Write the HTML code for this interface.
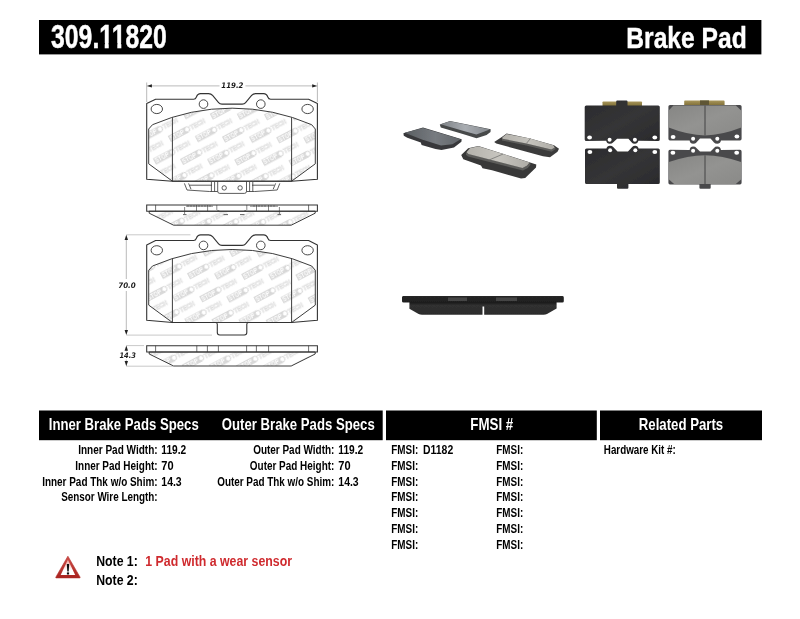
<!DOCTYPE html>
<html lang="en"><head><meta charset="utf-8"><title>309.11820 Brake Pad</title>
<style>
html,body{margin:0;padding:0;background:#fff;}
body{width:800px;height:619px;overflow:hidden;}
svg{display:block;will-change:transform;}
text{white-space:pre;}
</style></head><body>
<svg width="800" height="619" viewBox="0 0 800 619">
<rect width="800" height="619" fill="#fff"/>

<rect x="39" y="20" width="722.4" height="34.4" fill="#000"/>
<text x="51.1" y="47.8" font-family='"Liberation Sans", Arial, sans-serif' font-size="32.4" font-weight="bold" fill="#fff" text-anchor="start" textLength="115.6" lengthAdjust="spacingAndGlyphs" stroke="#fff" stroke-width="0.5">309.11820</text>
<path d="M98.9,42.9 H104.7 V48.9 H98.9 Z M108.75,42.9 H117.3 V48.9 H108.75 Z M121.35,42.9 H125.35 V48.9 H121.35 Z" fill="#000"/>
<text x="626.3" y="48.4" font-family='"Liberation Sans", Arial, sans-serif' font-size="30" font-weight="bold" fill="#fff" text-anchor="start" textLength="120.4" lengthAdjust="spacingAndGlyphs" stroke="#fff" stroke-width="0.4">Brake Pad</text>
<rect x="39" y="410.5" width="343.7" height="29.7" fill="#000"/>
<rect x="386" y="410.5" width="210.8" height="29.7" fill="#000"/>
<rect x="600" y="410.5" width="162" height="29.7" fill="#000"/>
<text x="48.8" y="429.6" font-family='"Liberation Sans", Arial, sans-serif' font-size="16.6" font-weight="bold" fill="#fff" text-anchor="start" textLength="149.9" lengthAdjust="spacingAndGlyphs">Inner Brake Pads Specs</text>
<text x="221.8" y="429.6" font-family='"Liberation Sans", Arial, sans-serif' font-size="16.6" font-weight="bold" fill="#fff" text-anchor="start" textLength="152.9" lengthAdjust="spacingAndGlyphs">Outer Brake Pads Specs</text>
<text x="470.3" y="429.6" font-family='"Liberation Sans", Arial, sans-serif' font-size="16.6" font-weight="bold" fill="#fff" text-anchor="start" textLength="42.9" lengthAdjust="spacingAndGlyphs">FMSI #</text>
<text x="638.8" y="429.6" font-family='"Liberation Sans", Arial, sans-serif' font-size="16.6" font-weight="bold" fill="#fff" text-anchor="start" textLength="84.4" lengthAdjust="spacingAndGlyphs">Related Parts</text>
<text x="157.6" y="454.3" font-family='"Liberation Sans", Arial, sans-serif' font-size="12" font-weight="bold" fill="#000" text-anchor="end" textLength="79.4" lengthAdjust="spacingAndGlyphs">Inner Pad Width:</text>
<text x="161.3" y="454.3" font-family='"Liberation Sans", Arial, sans-serif' font-size="12" font-weight="bold" fill="#000" text-anchor="start" textLength="24.9" lengthAdjust="spacingAndGlyphs">119.2</text>
<text x="157.6" y="470.0" font-family='"Liberation Sans", Arial, sans-serif' font-size="12" font-weight="bold" fill="#000" text-anchor="end" textLength="82.3" lengthAdjust="spacingAndGlyphs">Inner Pad Height:</text>
<text x="161.3" y="470.0" font-family='"Liberation Sans", Arial, sans-serif' font-size="12" font-weight="bold" fill="#000" text-anchor="start" textLength="12.3" lengthAdjust="spacingAndGlyphs">70</text>
<text x="157.6" y="485.7" font-family='"Liberation Sans", Arial, sans-serif' font-size="12" font-weight="bold" fill="#000" text-anchor="end" textLength="115.4" lengthAdjust="spacingAndGlyphs">Inner Pad Thk w/o Shim:</text>
<text x="161.3" y="485.7" font-family='"Liberation Sans", Arial, sans-serif' font-size="12" font-weight="bold" fill="#000" text-anchor="start" textLength="20.4" lengthAdjust="spacingAndGlyphs">14.3</text>
<text x="157.6" y="501.4" font-family='"Liberation Sans", Arial, sans-serif' font-size="12" font-weight="bold" fill="#000" text-anchor="end" textLength="96.4" lengthAdjust="spacingAndGlyphs">Sensor Wire Length:</text>
<text x="334.35" y="454.3" font-family='"Liberation Sans", Arial, sans-serif' font-size="12" font-weight="bold" fill="#000" text-anchor="end" textLength="81.2" lengthAdjust="spacingAndGlyphs">Outer Pad Width:</text>
<text x="338.3" y="454.3" font-family='"Liberation Sans", Arial, sans-serif' font-size="12" font-weight="bold" fill="#000" text-anchor="start" textLength="24.9" lengthAdjust="spacingAndGlyphs">119.2</text>
<text x="334.35" y="470.0" font-family='"Liberation Sans", Arial, sans-serif' font-size="12" font-weight="bold" fill="#000" text-anchor="end" textLength="84.5" lengthAdjust="spacingAndGlyphs">Outer Pad Height:</text>
<text x="338.3" y="470.0" font-family='"Liberation Sans", Arial, sans-serif' font-size="12" font-weight="bold" fill="#000" text-anchor="start" textLength="12.3" lengthAdjust="spacingAndGlyphs">70</text>
<text x="334.35" y="485.7" font-family='"Liberation Sans", Arial, sans-serif' font-size="12" font-weight="bold" fill="#000" text-anchor="end" textLength="117.15" lengthAdjust="spacingAndGlyphs">Outer Pad Thk w/o Shim:</text>
<text x="338.3" y="485.7" font-family='"Liberation Sans", Arial, sans-serif' font-size="12" font-weight="bold" fill="#000" text-anchor="start" textLength="20.4" lengthAdjust="spacingAndGlyphs">14.3</text>
<text x="391.3" y="454.3" font-family='"Liberation Sans", Arial, sans-serif' font-size="12" font-weight="bold" fill="#000" text-anchor="start" textLength="26.9" lengthAdjust="spacingAndGlyphs">FMSI:</text>
<text x="496.3" y="454.3" font-family='"Liberation Sans", Arial, sans-serif' font-size="12" font-weight="bold" fill="#000" text-anchor="start" textLength="26.9" lengthAdjust="spacingAndGlyphs">FMSI:</text>
<text x="391.3" y="470.0" font-family='"Liberation Sans", Arial, sans-serif' font-size="12" font-weight="bold" fill="#000" text-anchor="start" textLength="26.9" lengthAdjust="spacingAndGlyphs">FMSI:</text>
<text x="496.3" y="470.0" font-family='"Liberation Sans", Arial, sans-serif' font-size="12" font-weight="bold" fill="#000" text-anchor="start" textLength="26.9" lengthAdjust="spacingAndGlyphs">FMSI:</text>
<text x="391.3" y="485.7" font-family='"Liberation Sans", Arial, sans-serif' font-size="12" font-weight="bold" fill="#000" text-anchor="start" textLength="26.9" lengthAdjust="spacingAndGlyphs">FMSI:</text>
<text x="496.3" y="485.7" font-family='"Liberation Sans", Arial, sans-serif' font-size="12" font-weight="bold" fill="#000" text-anchor="start" textLength="26.9" lengthAdjust="spacingAndGlyphs">FMSI:</text>
<text x="391.3" y="501.4" font-family='"Liberation Sans", Arial, sans-serif' font-size="12" font-weight="bold" fill="#000" text-anchor="start" textLength="26.9" lengthAdjust="spacingAndGlyphs">FMSI:</text>
<text x="496.3" y="501.4" font-family='"Liberation Sans", Arial, sans-serif' font-size="12" font-weight="bold" fill="#000" text-anchor="start" textLength="26.9" lengthAdjust="spacingAndGlyphs">FMSI:</text>
<text x="391.3" y="517.1" font-family='"Liberation Sans", Arial, sans-serif' font-size="12" font-weight="bold" fill="#000" text-anchor="start" textLength="26.9" lengthAdjust="spacingAndGlyphs">FMSI:</text>
<text x="496.3" y="517.1" font-family='"Liberation Sans", Arial, sans-serif' font-size="12" font-weight="bold" fill="#000" text-anchor="start" textLength="26.9" lengthAdjust="spacingAndGlyphs">FMSI:</text>
<text x="391.3" y="532.8" font-family='"Liberation Sans", Arial, sans-serif' font-size="12" font-weight="bold" fill="#000" text-anchor="start" textLength="26.9" lengthAdjust="spacingAndGlyphs">FMSI:</text>
<text x="496.3" y="532.8" font-family='"Liberation Sans", Arial, sans-serif' font-size="12" font-weight="bold" fill="#000" text-anchor="start" textLength="26.9" lengthAdjust="spacingAndGlyphs">FMSI:</text>
<text x="391.3" y="548.5" font-family='"Liberation Sans", Arial, sans-serif' font-size="12" font-weight="bold" fill="#000" text-anchor="start" textLength="26.9" lengthAdjust="spacingAndGlyphs">FMSI:</text>
<text x="496.3" y="548.5" font-family='"Liberation Sans", Arial, sans-serif' font-size="12" font-weight="bold" fill="#000" text-anchor="start" textLength="26.9" lengthAdjust="spacingAndGlyphs">FMSI:</text>
<text x="423.05" y="454.3" font-family='"Liberation Sans", Arial, sans-serif' font-size="12" font-weight="bold" fill="#000" text-anchor="start" textLength="30.15" lengthAdjust="spacingAndGlyphs">D1182</text>
<text x="603.8" y="454.3" font-family='"Liberation Sans", Arial, sans-serif' font-size="12" font-weight="bold" fill="#000" text-anchor="start" textLength="71.9" lengthAdjust="spacingAndGlyphs">Hardware Kit #:</text>
<text x="96.2" y="566.4" font-family='"Liberation Sans", Arial, sans-serif' font-size="14" font-weight="bold" fill="#000" text-anchor="start" textLength="41.6" lengthAdjust="spacingAndGlyphs">Note 1:</text>
<text x="96.2" y="585.25" font-family='"Liberation Sans", Arial, sans-serif' font-size="14" font-weight="bold" fill="#000" text-anchor="start" textLength="41.6" lengthAdjust="spacingAndGlyphs">Note 2:</text>
<text x="145.3" y="566.4" font-family='"Liberation Sans", Arial, sans-serif' font-size="14" font-weight="bold" fill="#cf2a2e" text-anchor="start" textLength="146.7" lengthAdjust="spacingAndGlyphs">1 Pad with a wear sensor</text>
<defs>
<pattern id="wm" patternUnits="userSpaceOnUse" width="46.5" height="25.5" patternTransform="translate(197.8 142) rotate(-28) scale(1.022)">
 <g font-family='"Liberation Sans", Arial, sans-serif' font-weight="bold" font-size="6.2">
  <g id="lg">
   <rect x="0" y="-6.2" width="19.5" height="6.6" fill="#d9d9d9"/>
   <text x="1" y="-0.6" fill="#fff" textLength="15" lengthAdjust="spacingAndGlyphs">STOP</text>
   <circle cx="19.8" cy="-3" r="2.6" fill="#fff" stroke="#cfcfcf" stroke-width="0.9"/>
   <text x="23.2" y="-0.6" fill="#fff" stroke="#dadada" stroke-width="0.55" textLength="16" lengthAdjust="spacingAndGlyphs">TECH</text>
  </g>
  <use href="#lg" x="46.5" y="0"/><use href="#lg" x="-46.5" y="0"/>
  <use href="#lg" x="0" y="25.5"/><use href="#lg" x="46.5" y="25.5"/><use href="#lg" x="-46.5" y="25.5"/>
  <use href="#lg" x="23.25" y="12.75"/><use href="#lg" x="-23.25" y="12.75"/><use href="#lg" x="69.75" y="12.75"/>
  <use href="#lg" x="23.25" y="38.25"/><use href="#lg" x="-23.25" y="38.25"/>
 </g>
</pattern>
</defs>
<path d="M148.7,129 L152.5,124.7 A200,200 0 0 1 311.7,124.7 L315.3,129 L315.3,163.8 L291.6,181.2 L172.4,181.2 L148.7,163.8 Z" fill="url(#wm)" stroke="none"/>
<path d="M146.7,103.6 L155.6,99.2 L193.6,99.2 Q195.6,99.2 196.4,97 Q197.6,93.6 200.6,93.6 L208.6,93.6 Q211,93.6 212.6,95.4 L218.6,102.6 Q219.8,104.1 222,104.1 L242.2,104.1 Q244.4,104.1 245.6,102.6 L251.6,95.4 Q253.2,93.6 255.6,93.6 L263.6,93.6 Q266.6,93.6 267.8,97 Q268.6,99.2 270.6,99.2 L308.6,99.2 L317.4,103.6 L317.4,179.2 L291.6,181.3 L172.4,181.3 L146.7,179.2 Z" fill="none" stroke="#333333" stroke-width="1.1" stroke-linejoin="round"/>
<path d="M148.7,129 L152.5,124.7 A200,200 0 0 1 311.7,124.7 L315.3,129 L315.3,163.8 L291.6,181.2 L172.4,181.2 L148.7,163.8 Z" fill="none" stroke="#333333" stroke-width="0.95" stroke-linejoin="round"/>
<path d="M172.4,117.4 V181.2 M291.6,117.4 V181.2" fill="none" stroke="#333333" stroke-width="0.95"/>
<ellipse cx="156.8" cy="109" rx="5.7" ry="4.6" fill="#fff" stroke="#333333" stroke-width="0.9"/>
<ellipse cx="307.6" cy="109" rx="5.7" ry="4.6" fill="#fff" stroke="#333333" stroke-width="0.9"/>
<circle cx="203.5" cy="104.1" r="4.3" fill="#fff" stroke="#333333" stroke-width="0.9"/>
<circle cx="260.8" cy="104.1" r="4.3" fill="#fff" stroke="#333333" stroke-width="0.9"/>
<g fill="none" stroke="#333333" stroke-width="0.8" stroke-linejoin="round"><path d="M184.4,183.4 L187,190 L209.5,191.5 L217.7,191.5 M188.6,183.4 L191,189.2 M190,185.2 H212"/><path d="M279.8,183.4 L277.2,190 L254.7,191.5 L246.5,191.5 M275.6,183.4 L273.2,189.2 M274.2,185.2 H252"/><path d="M217.7,181.4 V191.3 Q217.7,193.4 219.8,193.4 L244.4,193.4 Q246.5,193.4 246.5,191.3 V181.4"/><path d="M211.4,182 V191.5 M214.6,182 V191.5 M249.6,182 V191.5 M252.8,182 V191.5"/><circle cx="224.2" cy="187.9" r="2.2"/><circle cx="240.1" cy="187.9" r="2.2"/></g>
<path d="M149.2,211.2 V213.2 L173.6,225.2 H291.2 L315.2,213.2 V211.2 Z" fill="url(#wm)" stroke="none"/>
<path d="M146.7,204.9 H317.4 V211.2 H146.7 Z" fill="#fff" stroke="#333333" stroke-width="1.05"/>
<path d="M149.2,211.2 V213.2 L173.6,225.2 H291.2 L315.2,213.2 V211.2 Z" fill="none" stroke="#333333" stroke-width="0.95" stroke-linejoin="round"/>
<path d="M155.6,204.9 V211.2 M308.6,204.9 V211.2" fill="none" stroke="#333333" stroke-width="0.7"/>
<g fill="none" stroke="#333333" stroke-width="0.6"><path d="M186,206.2 H213 M250,206.2 H278 M196.5,205 V211 M207.6,205 V211 M216.8,205 V209.5 Q217.5,211 219.5,211 M246.8,205 V209.5 Q246,211 244,211 M256.5,205 V211 M268.5,205 V211 M184.6,207 V214 M279.4,207 V214"/><path d="M188,205 V207 M191,205 V207 M194,205 V207 M199,205 V207 M202,205 V207 M205,205 V207 M210,205 V207 M254,205 V207 M259,205 V207 M262,205 V207 M265,205 V207 M271,205 V207 M274,205 V207" stroke-width="0.5"/><path d="M183,214.6 H186.5 M223.5,214.6 H228 M240,214.6 H244.5 M277.5,214.6 H281" stroke-width="0.9" stroke="#555"/></g>
<path d="M148.7,270.3 L152.5,266.0 A200,200 0 0 1 311.7,266.0 L315.3,270.3 L315.3,305.1 L291.6,322.5 L172.4,322.5 L148.7,305.1 Z" fill="url(#wm)" stroke="none"/>
<path d="M146.7,244.9 L155.6,240.5 L193.6,240.5 Q195.6,240.5 196.4,238.3 Q197.6,234.9 200.6,234.9 L208.6,234.9 Q211,234.9 212.6,236.7 L218.6,243.9 Q219.8,245.4 222,245.4 L242.2,245.4 Q244.4,245.4 245.6,243.9 L251.6,236.7 Q253.2,234.9 255.6,234.9 L263.6,234.9 Q266.6,234.9 267.8,238.3 Q268.6,240.5 270.6,240.5 L308.6,240.5 L317.4,244.9 L317.4,320.3 L291.6,322.5 L248.6,322.5 Q246.8,322.5 246.8,324.3 L246.8,332.5 Q246.8,335.0 244.3,335.0 L219.8,335.0 Q217.3,335.0 217.3,332.5 L217.3,324.3 Q217.3,322.5 215.5,322.5 L172.4,322.5 L146.7,320.3 Z" fill="none" stroke="#333333" stroke-width="1.1" stroke-linejoin="round"/>
<path d="M148.7,270.3 L152.5,266.0 A200,200 0 0 1 311.7,266.0 L315.3,270.3 L315.3,305.1 L291.6,322.5 L172.4,322.5 L148.7,305.1 Z" fill="none" stroke="#333333" stroke-width="0.95" stroke-linejoin="round"/>
<path d="M172.4,258.7 V322.5 M291.6,258.7 V322.5" fill="none" stroke="#333333" stroke-width="0.95"/>
<ellipse cx="156.8" cy="250.3" rx="5.7" ry="4.6" fill="#fff" stroke="#333333" stroke-width="0.9"/>
<ellipse cx="307.6" cy="250.3" rx="5.7" ry="4.6" fill="#fff" stroke="#333333" stroke-width="0.9"/>
<circle cx="203.5" cy="245.4" r="4.3" fill="#fff" stroke="#333333" stroke-width="0.9"/>
<circle cx="260.8" cy="245.4" r="4.3" fill="#fff" stroke="#333333" stroke-width="0.9"/>
<path d="M149.2,352.0 V354.0 L173.6,366.0 H291.2 L315.2,354.0 V352.0 Z" fill="url(#wm)" stroke="none"/>
<path d="M146.7,345.7 H317.4 V352.0 H146.7 Z" fill="#fff" stroke="#333333" stroke-width="1.05"/>
<path d="M149.2,352.0 V354.0 L173.6,366.0 H291.2 L315.2,354.0 V352.0 Z" fill="none" stroke="#333333" stroke-width="0.95" stroke-linejoin="round"/>
<path d="M155.6,345.7 V352.0 M196.8,345.7 V352.0 M207.4,345.7 V352.0 M218.4,345.7 V352.0 M246.6,345.7 V352.0 M256.4,345.7 V352.0 M268.6,345.7 V352.0 M308.6,345.7 V352.0" fill="none" stroke="#333333" stroke-width="0.7"/>
<g fill="none" stroke="#808080" stroke-width="0.55"><path d="M146.7,82.5 V102 M317.4,82.5 V102 M150,85.9 H219.5 M245.5,85.9 H314"/><path d="M126.3,238 V279 M126.3,291 V332 M126.3,349 V351.5 M126.3,359.5 V363"/><path d="M126.3,234.8 H190.5 M126.3,335.1 H212 M126.3,345.6 H144 M126.3,366.2 H173" stroke="#9a9a9a"/></g>
<polygon points="146.7,85.9 151.89999999999998,84.2 151.89999999999998,87.60000000000001" fill="#222"/>
<polygon points="317.4,85.9 312.2,84.2 312.2,87.60000000000001" fill="#222"/>
<polygon points="126.3,234.8 124.6,240.0 128.0,240.0" fill="#222"/>
<polygon points="126.3,335.1 124.6,329.90000000000003 128.0,329.90000000000003" fill="#222"/>
<polygon points="126.3,345.6 124.6,350.8 128.0,350.8" fill="#222"/>
<polygon points="126.3,366.2 124.6,361.0 128.0,361.0" fill="#222"/>
<text x="221.3" y="88.1" font-family='"DejaVu Sans", "Liberation Sans", sans-serif' font-size="7.6" font-weight="bold" font-style="italic" fill="#1a1a1a" text-anchor="start" textLength="22.2" lengthAdjust="spacingAndGlyphs">119.2</text>
<text x="118.2" y="287.6" font-family='"DejaVu Sans", "Liberation Sans", sans-serif' font-size="7.6" font-weight="bold" font-style="italic" fill="#1a1a1a" text-anchor="start" textLength="17.6" lengthAdjust="spacingAndGlyphs">70.0</text>
<text x="119.4" y="358.2" font-family='"DejaVu Sans", "Liberation Sans", sans-serif' font-size="7.6" font-weight="bold" font-style="italic" fill="#1a1a1a" text-anchor="start" textLength="16.6" lengthAdjust="spacingAndGlyphs">14.3</text>
<defs>
<filter id="soft" x="-5%" y="-5%" width="110%" height="110%"><feGaussianBlur stdDeviation="0.55"/></filter>
<filter id="soft2" x="-5%" y="-20%" width="110%" height="140%"><feGaussianBlur stdDeviation="0.6"/></filter>
<linearGradient id="gDark" x1="0" y1="0" x2="1" y2="1"><stop offset="0" stop-color="#2a2a2c"/><stop offset="0.5" stop-color="#353537"/><stop offset="1" stop-color="#29292b"/></linearGradient>
<linearGradient id="gFr" x1="0" y1="0" x2="1" y2="1"><stop offset="0" stop-color="#868684"/><stop offset="0.5" stop-color="#939391"/><stop offset="1" stop-color="#8a8a88"/></linearGradient>
<linearGradient id="gGold" x1="0" y1="0" x2="0" y2="1"><stop offset="0" stop-color="#a8965a"/><stop offset="1" stop-color="#7a6a34"/></linearGradient>
<linearGradient id="gP1" x1="0" y1="0" x2="1" y2="0"><stop offset="0" stop-color="#5a5e62"/><stop offset="0.55" stop-color="#777b80"/><stop offset="1" stop-color="#62666a"/></linearGradient>
<linearGradient id="gP2" x1="0" y1="0" x2="1" y2="0"><stop offset="0" stop-color="#7e8286"/><stop offset="0.5" stop-color="#a9adb2"/><stop offset="1" stop-color="#85898e"/></linearGradient>
<linearGradient id="gP3" x1="0" y1="0" x2="1" y2="0"><stop offset="0" stop-color="#b4b2ac"/><stop offset="0.5" stop-color="#c6c4be"/><stop offset="1" stop-color="#aeaca6"/></linearGradient>
<linearGradient id="gSide" x1="0" y1="0" x2="0" y2="1"><stop offset="0" stop-color="#262626"/><stop offset="0.35" stop-color="#1e1e1e"/><stop offset="0.5" stop-color="#303030"/><stop offset="1" stop-color="#2c2c2c"/></linearGradient>
</defs>
<g filter="url(#soft)">
<polygon points="439.8,124.6 450,120.9 490.7,129.3 490.5,132 486.6,135 476.5,138.2 462,133.8 440.8,127.4" fill="#46484a"/>
<polygon points="440.6,124.2 450,121.2 489.8,129.4 476.4,134.6 462,130.6" fill="url(#gP2)"/>
<polygon points="403.4,133.2 423,127.5 461.7,139.2 461.4,141.8 454,147.4 441.5,150 435.5,149 421.6,145 420.8,142.6 407.3,137.8 403.8,135.8" fill="#38393b"/>
<polygon points="404.6,132.8 423,128 460.6,139.3 452.4,144.2 441,145.6 422,139.6" fill="url(#gP1)"/>
<polygon points="494.2,142 501.8,137 506.6,133.6 530,138.4 554,145.2 559,148.8 557.5,151.8 550,157.2 543,156.2 520,150 496.3,143.6" fill="#3b3b3b"/>
<polygon points="502.1,138.2 526.5,143.2 551.3,149.4 555,147.2 555.6,149 551.7,151.7 526.3,145.5 501.9,140.5" fill="#5c5c5a"/>
<polygon points="502.3,137.6 506.6,134.1 530,138.5 553.3,145.3 554.8,147.4 551.3,149.6 526.5,143.4 502.5,138.8" fill="url(#gP3)"/>
<path d="M530.4,138.6 L526.6,143.2" stroke="#6a6a68" stroke-width="0.7" fill="none"/>
<polygon points="461.2,155.1 468.2,148.2 478.4,145.9 536.3,164.5 536,167.6 525.2,177.9 521,178.6 492.1,170.3 482.5,168.2 481,165.5 463.3,159.3" fill="#383838"/>
<polygon points="466.2,152.4 468.4,153.8 522.5,167.8 527.4,165.4 529.9,162.4 530.6,164.6 527.9,167.9 522.9,170.5 468,156.5 465.9,154.8" fill="#5c5c5a"/>
<polygon points="466.5,152.2 469.8,148.2 478.4,146.3 529.6,162.4 527.2,165.6 522.5,168 468.4,154" fill="url(#gP3)"/>
<path d="M503.2,154 L489,160" stroke="#6a6a68" stroke-width="0.7" fill="none"/>
</g>
<g filter="url(#soft)">
<rect x="602.5" y="101.4" width="39.5" height="5" rx="0.8" fill="url(#gGold)"/>
<rect x="684.2" y="100.6" width="40.4" height="5.4" rx="0.8" fill="url(#gGold)"/>
<rect x="700" y="100.4" width="9" height="5.6" fill="#5e5636"/>
<path d="M584.7,107 Q584.7,105.4 586.3,105.4 H616.2 V101.6 Q616.2,100.6 617.2,100.6 H626.5 Q627.5,100.6 627.5,101.6 V105.4 H658.2 Q659.8,105.4 659.8,107 V139.4 Q659.8,141 658,141 L638.4,140.8 Q637.6,143.8 634.9,143.8 Q632.6,143.8 631.8,142.6 L628.4,138.8 H617.1 L613,142.6 Q612,143.8 609.6,143.8 Q606.8,143.8 606.2,140.8 L586.4,141 Q584.7,141 584.7,139.4 Z" fill="url(#gDark)"/>
<ellipse cx="589.6" cy="137.4" rx="2.4" ry="2.0" fill="#fff"/>
<ellipse cx="609.6" cy="139.7" rx="2.0" ry="2.0" fill="#fff"/>
<ellipse cx="634.9" cy="139.7" rx="2.0" ry="2.0" fill="#fff"/>
<ellipse cx="654.8" cy="137.4" rx="2.4" ry="2.0" fill="#fff"/>
<path d="M585,150 Q585,148.5 586.6,148.5 L606.4,148.6 Q607,145.7 609.9,145.7 Q612.2,145.7 613.2,146.9 L617.5,151.4 H628 L632.2,146.9 Q633.2,145.7 635.3,145.7 Q638,145.7 638.6,148.6 L658.2,148.5 Q659.8,148.5 659.8,150 V182.4 Q659.8,184 658.2,184 H628.4 V187.8 Q628.4,188.8 627.4,188.8 H618 Q617,188.8 617,187.8 V184 H586.6 Q585,184 585,182.4 Z" fill="url(#gDark)"/>
<ellipse cx="589.9" cy="152" rx="2.4" ry="2.0" fill="#fff"/>
<ellipse cx="610.1" cy="150.2" rx="2.0" ry="2.0" fill="#fff"/>
<ellipse cx="635.3" cy="150.2" rx="2.0" ry="2.0" fill="#fff"/>
<ellipse cx="654.8" cy="152" rx="2.4" ry="2.0" fill="#fff"/>
<path d="M668.4,106.6 Q668.4,105 670,105 H740 Q741.6,105 741.6,106.6 V138.8 Q741.6,140.6 740,140.6 L721,140.4 Q720.2,143.7 717.3,143.7 Q715,143.7 714,142.4 L710.5,138.6 H700 L696.4,142.4 Q695.4,143.7 693.1,143.7 Q690.2,143.7 689.6,140.4 L670,140.6 Q668.4,140.6 668.4,138.8 Z" fill="#4a4a4c"/>
<path d="M668.7,110.6 L673.4,105.6 H735.8 L741.2,110.6 V127.6 Q722,135.2 705,135.5 Q688,135.2 668.7,127.6 Z" fill="url(#gFr)"/>
<path d="M705,105.6 V135.5" stroke="#3c3c3c" stroke-width="0.9" fill="none"/>
<ellipse cx="673.1" cy="137" rx="2.4" ry="2.0" fill="#fff"/>
<ellipse cx="693.1" cy="138.7" rx="2.0" ry="2.0" fill="#fff"/>
<ellipse cx="717.3" cy="138.7" rx="2.0" ry="2.0" fill="#fff"/>
<ellipse cx="736.9" cy="136.5" rx="2.4" ry="2.0" fill="#fff"/>
<path d="M668.4,151.4 Q668.4,149.8 670,149.8 L689.6,149.9 Q690.2,146.6 693.1,146.6 Q695.4,146.6 696.4,147.9 L700,151.6 H710.5 L714,147.9 Q715,146.6 717.3,146.6 Q720.2,146.6 721,149.9 L740,149.8 Q741.6,149.8 741.6,151.4 V182.8 Q741.6,184.4 740,184.4 H710.7 V187.7 Q710.7,188.7 709.7,188.7 H700.4 Q699.4,188.7 699.4,187.7 V184.4 H670 Q668.4,184.4 668.4,182.8 Z" fill="#4a4a4c"/>
<path d="M668.9,179.6 L674.2,184 H735.8 L741.1,179.6 V162 Q722,155.6 705,155.3 Q688,155.6 668.9,162 Z" fill="url(#gFr)"/>
<path d="M705,155.3 V184" stroke="#3c3c3c" stroke-width="0.9" fill="none"/>
<ellipse cx="672.9" cy="152.8" rx="2.4" ry="2.0" fill="#fff"/>
<ellipse cx="693.1" cy="150.7" rx="2.0" ry="2.0" fill="#fff"/>
<ellipse cx="717.3" cy="150.7" rx="2.0" ry="2.0" fill="#fff"/>
<ellipse cx="736.7" cy="152.8" rx="2.4" ry="2.0" fill="#fff"/>
</g>
<g filter="url(#soft2)">
<path d="M402,297.4 Q402,296 403.6,296 H562.2 Q563.8,296 563.8,297.4 V301.2 Q563.8,302.6 562.2,302.6 H556.6 V308.6 L547,314 Q545.6,314.8 543.6,314.8 H484.2 V306.6 H482.5 V314.8 H422 Q420,314.8 418.6,314 L409.4,308.8 V302.6 H403.6 Q402,302.6 402,301.2 Z" fill="url(#gSide)"/>
<path d="M448,297.6 H467 V301 H448 Z M496,297.6 H517 V301 H496 Z" fill="#444"/>
</g>
<defs><linearGradient id="gTri" x1="0" y1="0" x2="0" y2="1"><stop offset="0" stop-color="#d2504a"/><stop offset="1" stop-color="#a8221e"/></linearGradient>
<linearGradient id="gTriIn" x1="0" y1="0" x2="0" y2="1"><stop offset="0" stop-color="#efa49c"/><stop offset="0.7" stop-color="#ffffff"/><stop offset="1" stop-color="#ffffff"/></linearGradient></defs>
<g filter="url(#soft)"><path d="M67.9,556.2 L80.1,577.2 Q80.4,577.9 79.6,577.9 L56.2,577.9 Q55.5,577.9 55.8,577.2 Z" fill="url(#gTri)" stroke="#b02a26" stroke-width="0.6" stroke-linejoin="round"/>
<path d="M67.9,559.7 L75.2,574.9 L60.7,574.9 Z" fill="url(#gTriIn)"/>
<path d="M66.8,564 H69.2 L68.7,571.4 H67.3 Z" fill="#111"/><rect x="66.9" y="572.4" width="2.2" height="2.1" fill="#111"/></g>
</svg></body></html>
